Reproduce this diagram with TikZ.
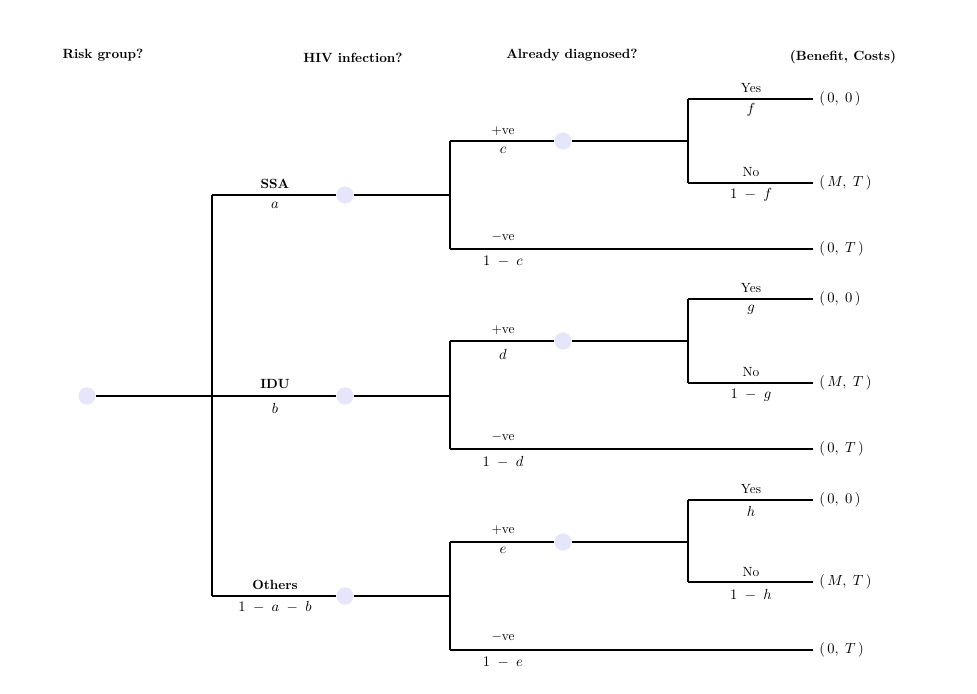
\documentclass[tikz,border=0pt]{standalone}
\usepackage{fontspec}
\begin{document}
\begin{tikzpicture}[x=0.75pt,y=-0.75pt,
  br/.style={line width=1.7pt},
  dotnode/.style={circle,fill=dotcol,draw=none,minimum size=12.75pt,inner sep=0pt},
  hdr/.style={font=\bfseries\fontsize{10}{12}\selectfont,inner sep=0pt},
  lblb/.style={font=\bfseries\fontsize{10}{12}\selectfont,inner sep=0pt},
  lbl/.style={font=\fontsize{10}{12}\selectfont,inner sep=0pt},
  mth/.style={font=\fontsize{11}{13}\selectfont,inner sep=0pt},
  term/.style={font=\fontsize{11}{13}\selectfont,inner sep=0pt,anchor=west}]
\definecolor{dotcol}{RGB}{230,230,250}
\useasboundingbox (0,0) rectangle (977,693);
% headers
\node[hdr] (h1) at (103,55) {Risk group?};
\node[hdr] (h2) at (353,58) {HIV infection?};
\node[hdr] (h3) at (572,55) {Already diagnosed?};
\node[hdr] (h4) at (843,57) {(Benefit, Costs)};
% root
\node[dotnode] (root) at (87,396) {};
\coordinate (v1) at (212,396);
\coordinate (v1t) at (212,195);
\coordinate (v1b) at (212,596);
% level 1
\foreach \n/\y in {A/195,B/396,C/596}{
  \coordinate (s\n) at (212,\y);
  \node[dotnode] (d\n) at (345,\y) {};
  \coordinate (b\n) at (450,\y);
}
% level 2
\foreach \n/\yp/\ym in {A/141/249,B/341/449,C/542/650}{
  \coordinate (bp\n) at (450,\yp);
  \coordinate (bm\n) at (450,\ym);
  \node[dotnode] (e\n) at (563,\yp) {};
  \coordinate (f\n) at (688,\yp);
  \coordinate (m\n) at (813,\ym);
}
% level 3
\foreach \n/\yy/\yn in {A/99/183,B/299/383,C/500/582}{
  \coordinate (fy\n) at (688,\yy);
  \coordinate (fn\n) at (688,\yn);
  \coordinate (ty\n) at (813,\yy);
  \coordinate (tn\n) at (813,\yn);
}
% branches
\draw[br] (root) -- (v1);
\draw[br] (v1t) -- (v1b);
\foreach \n in {A,B,C}{
  \draw[br] (s\n) -- (d\n);
  \draw[br] (d\n) -- (b\n);
  \draw[br] (bp\n) -- (bm\n);
  \draw[br] (bp\n) -- (e\n);
  \draw[br] (e\n) -- (f\n);
  \draw[br] (bm\n) -- (m\n);
  \draw[br] (fy\n) -- (fn\n);
  \draw[br] (fy\n) -- (ty\n);
  \draw[br] (fn\n) -- (tn\n);
}
% level 1 labels
\node[lblb] (lA) at (275,184) {SSA};
\node[mth] (pA) at (275,205) {$a$};
\node[lblb] (lB) at (275,384) {IDU};
\node[mth] (pB) at (275,408) {$b$};
\node[lblb] (lC) at (275,585) {Others};
\node[mth] (pC) at (275,607) {$1\;-\;a\;-\;b$};
% level 2 labels
\node[lbl] (plA) at (503,131) {+ve};
\node[mth] (ppA) at (503,150) {$c$};
\node[lbl] (mlA) at (503,237) {$-$ve};
\node[mth] (mpA) at (503,261) {$1\;-\;c$};
\node[lbl] (plB) at (503,330) {+ve};
\node[mth] (ppB) at (503,354) {$d$};
\node[lbl] (mlB) at (503,437) {$-$ve};
\node[mth] (mpB) at (503,462) {$1\;-\;d$};
\node[lbl] (plC) at (503,530) {+ve};
\node[mth] (ppC) at (503,550) {$e$};
\node[lbl] (mlC) at (503,637) {$-$ve};
\node[mth] (mpC) at (503,662) {$1\;-\;e$};
% level 3 labels
\node[lbl] (ylA) at (751,88) {Yes};
\node[mth] (ypA) at (751,110) {$f$};
\node[lbl] (nlA) at (751,172) {No};
\node[mth] (npA) at (751,195) {$1\;-\;f$};
\node[lbl] (ylB) at (751,288) {Yes};
\node[mth] (ypB) at (751,310) {$g$};
\node[lbl] (nlB) at (751,372) {No};
\node[mth] (npB) at (751,395) {$1\;-\;g$};
\node[lbl] (ylC) at (751,489) {Yes};
\node[mth] (ypC) at (751,511) {$h$};
\node[lbl] (nlC) at (751,572) {No};
\node[mth] (npC) at (751,595) {$1\;-\;h$};
% terminals
\foreach \n/\a/\b/\c in {A/99/183/249,B/299/383/449,C/500/582/650}{
  \node[term] (t1\n) at (819,\a) {$(\,0,\;0\,)$};
  \node[term] (t2\n) at (819,\b) {$(\,M,\;T\,)$};
  \node[term] (t3\n) at (819,\c) {$(\,0,\;T\,)$};
}
% dots on top of the branches
\fill[dotcol] (root) circle (6.375pt);
\foreach \n in {A,B,C}{
  \fill[dotcol] (d\n) circle (6.375pt);
  \fill[dotcol] (e\n) circle (6.375pt);
}
\end{tikzpicture}
\end{document}
